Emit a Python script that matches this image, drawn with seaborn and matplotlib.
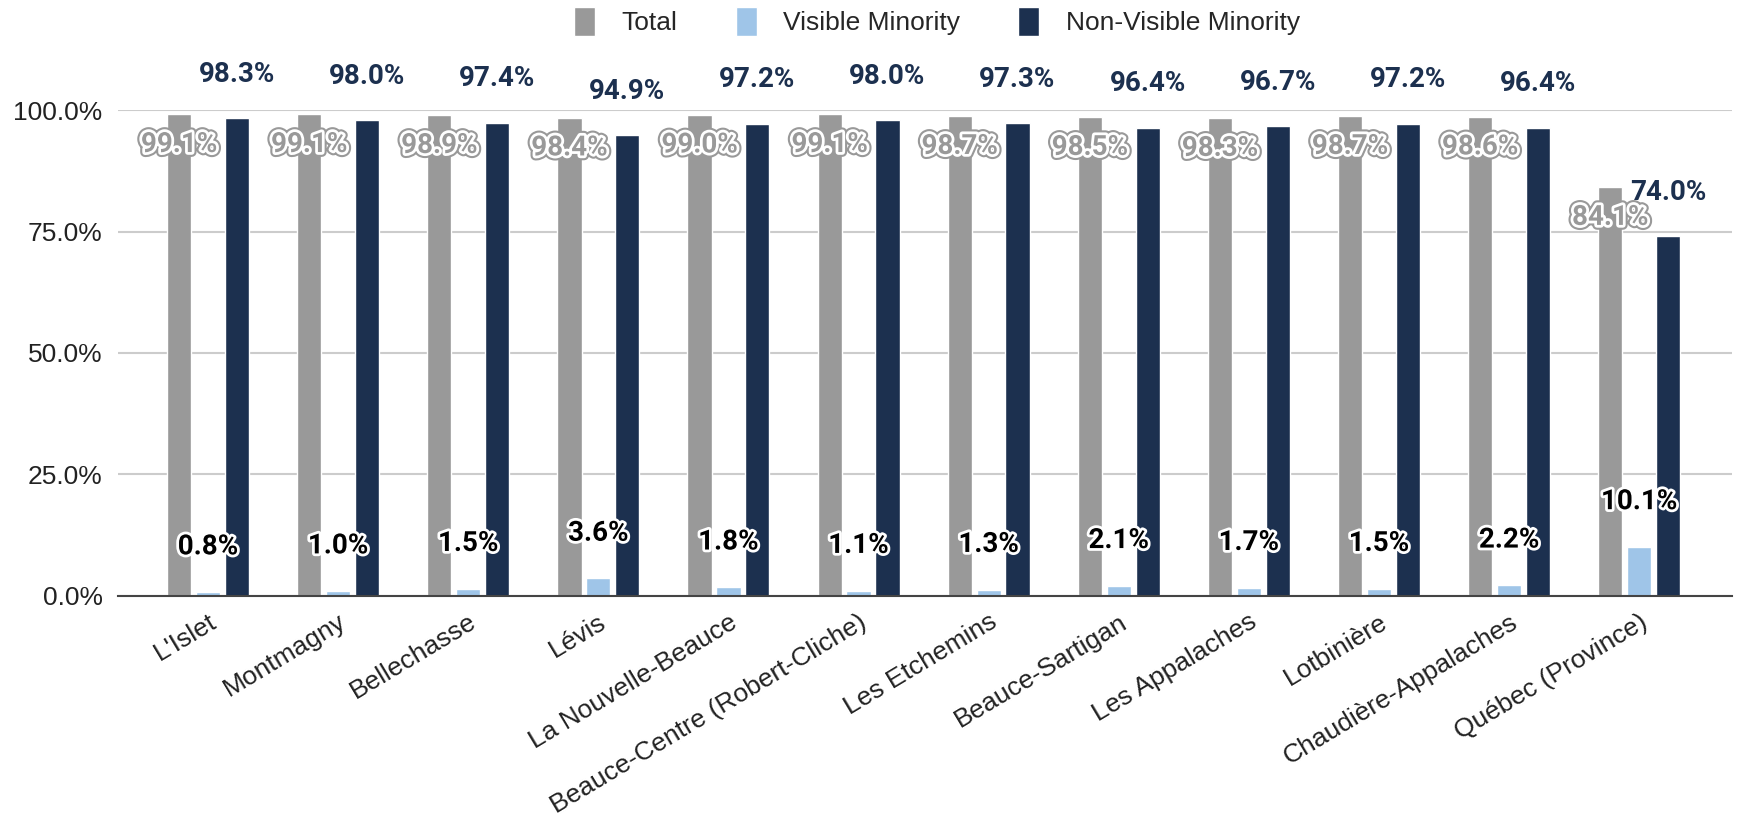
import pandas as pd
import seaborn as sns
import matplotlib.pyplot as plt
import matplotlib.patheffects as pe
from matplotlib.patches import Patch
from matplotlib.ticker import FuncFormatter

regions = ["L'Islet", "Montmagny", "Bellechasse", "Lévis", "La Nouvelle-Beauce",
           "Beauce-Centre (Robert-Cliche)", "Les Etchemins", "Beauce-Sartigan",
           "Les Appalaches", "Lotbinière", "Chaudière-Appalaches", "Québec (Province)"]
total = [99.1, 99.1, 98.9, 98.4, 99.0, 99.1, 98.7, 98.5, 98.3, 98.7, 98.6, 84.1]
visible = [0.8, 1.0, 1.5, 3.6, 1.8, 1.1, 1.3, 2.1, 1.7, 1.5, 2.2, 10.1]
non_visible = [98.3, 98.0, 97.4, 94.9, 97.2, 98.0, 97.3, 96.4, 96.7, 97.2, 96.4, 74.0]

series = ["Total", "Visible Minority", "Non-Visible Minority"]
colors = ["#999999", "#9fc5e8", "#1c304f"]

df = pd.DataFrame({
    "region": regions * 3,
    "series": [s for s in series for _ in regions],
    "value": total + visible + non_visible,
})

sns.set_style("white")
plt.rcParams['font.family'] = ['Liberation Sans', 'DejaVu Sans']

fig = plt.figure(figsize=(17.45, 8.26), dpi=100)
ax = fig.add_axes([0.0676, 0.2785, 0.925, 0.5883])

sns.barplot(data=df, x="region", y="value", hue="series", hue_order=series,
            palette=colors, width=0.666, gap=0.16, saturation=1, ax=ax,
            legend=False, zorder=3)

ax.set_ylim(0, 100)
ax.set_xlim(-0.692, 11.714)
ax.set_yticks([0, 25, 50, 75, 100])
ax.yaxis.set_major_formatter(FuncFormatter(lambda v, _: f"{v:.1f}%"))
ax.grid(axis="y", color="#cccccc", linewidth=1.5, zorder=0)
for s in ["top", "right", "left"]:
    ax.spines[s].set_visible(False)
ax.spines["bottom"].set_color("#444444")
ax.spines["bottom"].set_linewidth(1.5)
ax.spines["bottom"].set_zorder(4)
ax.set_xlabel("")
ax.set_ylabel("")
ax.tick_params(axis="y", labelsize=19, length=0, pad=11, labelcolor="#222222")
ax.tick_params(axis="x", labelsize=19, length=0, pad=10, labelcolor="#222222")
plt.setp(ax.get_xticklabels(), rotation=31, ha="right", rotation_mode="anchor")

label_font = ['Roboto', 'DejaVu Sans']
halo = [pe.withStroke(linewidth=4, foreground="white")]
gray_halo = [pe.withStroke(linewidth=7, foreground="#999999"),
             pe.withStroke(linewidth=4, foreground="white")]
tot_bars, vis_bars, non_bars = ax.containers
for i in range(len(regions)):
    b = tot_bars[i]
    ax.text(b.get_x() + b.get_width() / 2, total[i] - 6.2, f"{total[i]:.1f}%",
            ha="center", va="center", fontsize=20, fontweight="bold",
            family=label_font, color="#999999", path_effects=gray_halo, zorder=6)
    b = vis_bars[i]
    ax.text(b.get_x() + b.get_width() / 2, visible[i] + 9.3, f"{visible[i]:.1f}%",
            ha="center", va="center", fontsize=20, fontweight="bold",
            family=label_font, color="black", path_effects=halo, zorder=6)
    b = non_bars[i]
    ax.text(b.get_x() + b.get_width() / 2, non_visible[i] + 9.0, f"{non_visible[i]:.1f}%",
            ha="center", va="center", fontsize=20, fontweight="bold",
            family=label_font, color="#1c304f", zorder=6, clip_on=False)

handles = [Patch(facecolor=c, label=s) for c, s in zip(colors, series)]
fig.legend(handles=handles, loc="upper center", bbox_to_anchor=(0.537, 1.02), ncol=3,
           frameon=False, fontsize=19, handlelength=0.8, handleheight=1.3,
           columnspacing=2.2, handletextpad=1.0)

fig.savefig("out.png", dpi=100)
